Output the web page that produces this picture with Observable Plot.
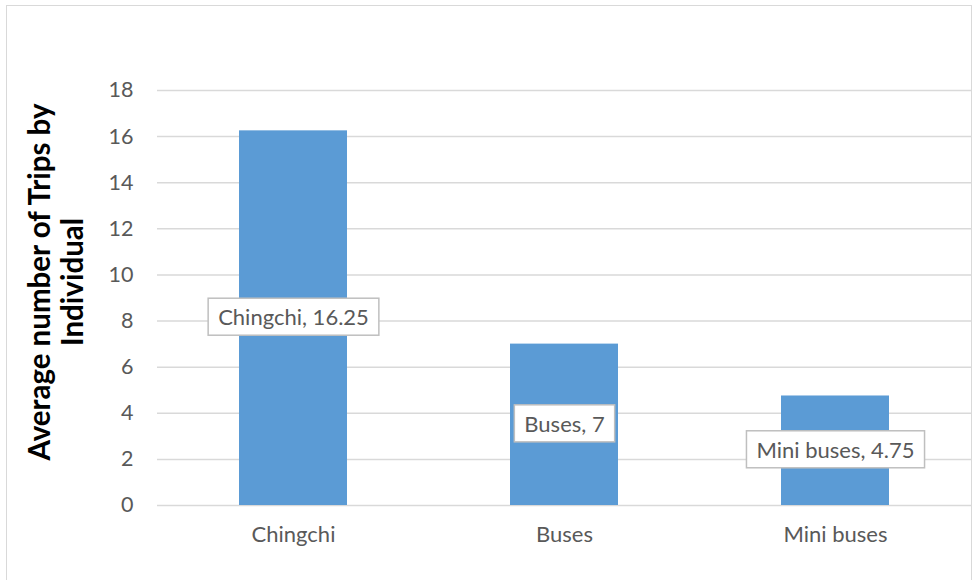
<!DOCTYPE html>
<html>
<head>
<meta charset="utf-8">
<script src="https://cdn.jsdelivr.net/npm/d3@7"></script>
<script src="https://cdn.jsdelivr.net/npm/@observablehq/plot@0.6"></script>
<style>
  html, body { margin: 0; padding: 0; background: #fff; overflow: hidden; }
  #frame { position: absolute; left: 6px; top: 5px; width: 966px; height: 620px; border: 1.5px solid #d9d9d9; box-sizing: border-box; }
  #chart { position: absolute; left: 0; top: 0; }
</style>
</head>
<body>
<div id="frame"></div>
<div id="chart"></div>
<script>
const categories = ["Chingchi", "Buses", "Mini buses"];
const values = [16.25, 7, 4.75];
const yTicks = [0, 2, 4, 6, 8, 10, 12, 14, 16, 18];
const yTitle = "Average number of Trips by\nIndividual";

const data = categories.map((c, i) => ({category: c, value: values[i], label: `${c}, ${values[i]}`}));

const FONT = "Lato, 'Open Sans', sans-serif";
const GRAY = "#595959";

const chart = Plot.plot({
  width: 973,
  height: 580,
  marginLeft: 157,
  marginRight: 2,
  marginTop: 90,
  marginBottom: 75,
  style: {fontFamily: FONT, fontSize: "21px", color: GRAY, background: "transparent"},
  x: {domain: categories, paddingInner: 0.6, paddingOuter: 0.3, label: null},
  y: {domain: [0, 18], label: null},
  marks: [
    Plot.gridY(yTicks, {stroke: "#d9d9d9", strokeOpacity: 1, strokeWidth: 1.5}),
    Plot.barY(data, {x: "category", y: "value", fill: "#5b9bd5"}),
    Plot.axisY(yTicks, {tickSize: 0, tickPadding: 24, fontSize: 21.5, fill: GRAY, label: null}),
    Plot.axisX({tickSize: 0, tickPadding: 21, fontSize: 22, fill: GRAY, label: null}),
    Plot.text(data, {
      x: "category", y: d => d.value / 2, text: "label",
      fill: GRAY, fontSize: 22, ariaDescription: "data-labels"
    }),
    Plot.text([yTitle], {
      frameAnchor: "left", rotate: -90, text: d => d, lineAnchor: "middle",
      textAnchor: "middle", fontWeight: "bold", fontSize: 29.5, fill: "#000",
      dx: -102, dy: -16, lineHeight: 1.12
    })
  ]
});

document.getElementById("chart").appendChild(chart);

// white label boxes behind the data labels
const svg = d3.select(chart);
svg.selectAll("g[aria-description='data-labels'] text").each(function() {
  const bb = this.getBBox();
  const padX = 10, padY = 5;
  const t = this.getAttribute("transform");
  d3.select(this.parentNode).insert("rect", () => this)
    .attr("transform", t)
    .attr("x", bb.x - padX)
    .attr("y", bb.y - padY)
    .attr("width", bb.width + 2 * padX)
    .attr("height", bb.height + 2 * padY)
    .attr("fill", "#fff")
    .attr("stroke", "#bfbfbf")
    .attr("stroke-width", 1.5);
});
</script>
</body>
</html>
